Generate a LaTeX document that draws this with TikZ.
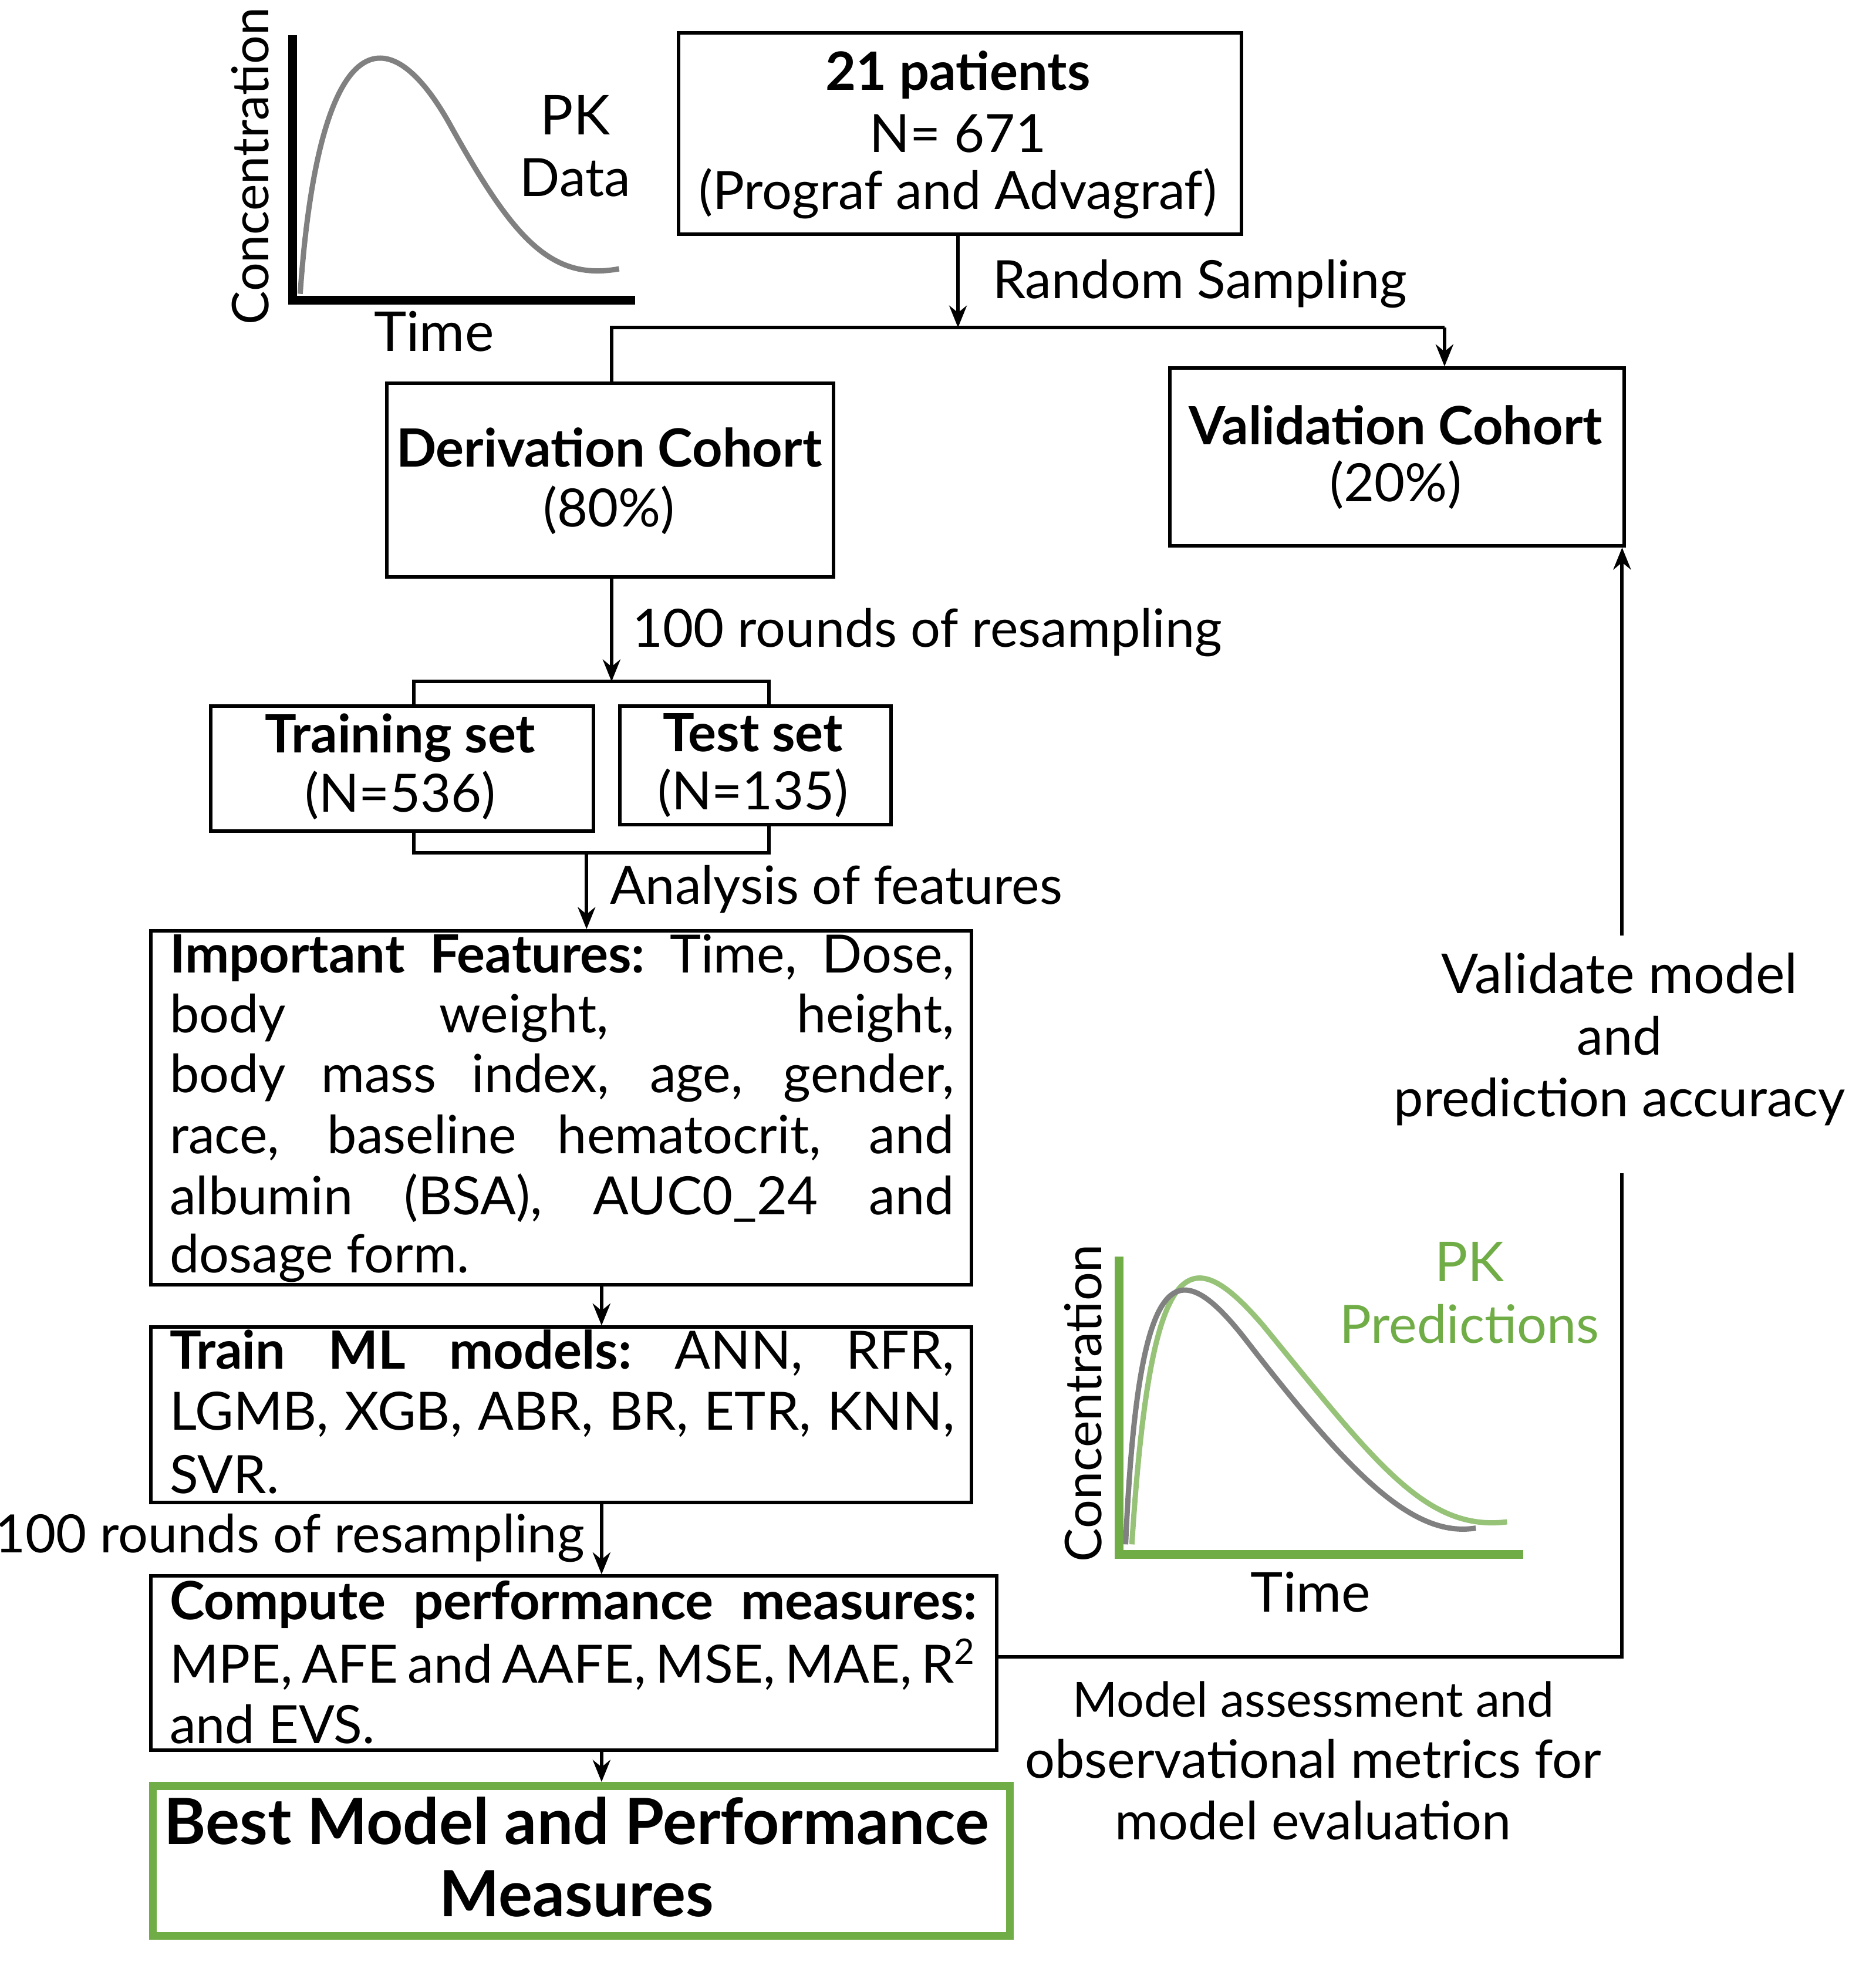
\documentclass[tikz,border=0pt]{standalone}
\usepackage{fontspec}
\usetikzlibrary{arrows.meta}
\setmainfont{Lato}
\definecolor{pkgreen}{RGB}{112,173,71}
\definecolor{pklight}{RGB}{150,195,120}
\definecolor{curvegray}{RGB}{128,128,128}
\newcommand{\jl}[1]{\makebox[6.27cm][s]{#1}}
\newcommand{\jlb}[1]{\makebox[6.45cm][s]{#1}}
\begin{document}
\begin{tikzpicture}[x=0.01cm,y=-0.01cm,
  font=\fontsize{12}{14}\selectfont,
  box/.style={draw,line width=0.8pt,inner sep=0pt},
  lbl/.style={inner sep=0pt},
  ln/.style={line width=0.8pt},
  arr/.style={line width=0.8pt,-{Stealth[length=5pt,width=4pt]}},
  txt/.style={inner sep=0pt,anchor=west}]
\useasboundingbox (0,0) rectangle (1500,1577);
% PK data plot
\draw[curvegray,line width=1.2pt] (240,235) .. controls (255,20) and (310,10) .. (360,100) .. controls (410,190) and (440,225) .. (495,215);
\draw[line width=2pt] (234,28) -- (234,240) -- (508,240);
\node[lbl,rotate=90] (conc1) at (200,133) {\fontsize{11.5}{14}\selectfont Concentration};
\node[lbl] (time1) at (347,265) {\fontsize{12.5}{15}\selectfont Time};
\node[lbl,align=center] (pkd) at (460,117) {\fontsize{12.5}{17}\selectfont PK\\Data};
% boxes
\node[box,minimum width=4.5cm,minimum height=1.61cm,anchor=north west] (pat) at (541,25) {};
\node[lbl] (t1) at (766,60) {\bfseries 21 patients};
\node[lbl] (t2) at (766,107) {N= 671};
\node[lbl] (t3) at (766,155) {(Prograf and Advagraf)};
\node[box,minimum width=3.57cm,minimum height=1.55cm,anchor=north west] (der) at (308,305) {};
\node[lbl] (d1) at (487,358) {\bfseries Derivation Cohort};
\node[lbl] (d2) at (487,408) {(80\%)};
\node[box,minimum width=3.63cm,minimum height=1.42cm,anchor=north west] (val) at (934,293) {};
\node[lbl] (v1) at (1116,340) {\bfseries Validation Cohort};
\node[lbl] (v2) at (1116,388) {(20\%)};
\node[box,minimum width=3.06cm,minimum height=1cm,anchor=north west] (train) at (167,563) {};
\node[lbl] (tr1) at (320,590) {\bfseries Training set};
\node[lbl] (tr2) at (320,636) {(N=536)};
\node[box,minimum width=2.17cm,minimum height=0.95cm,anchor=north west] (test) at (494,563) {};
\node[lbl] (te1) at (602,586) {\bfseries Test set};
\node[lbl] (te2) at (602,634) {(N=135)};
\node[box,minimum width=6.56cm,minimum height=2.83cm,anchor=north west] (feat) at (119,743) {};
\node[txt] (f1) at (135,766) {\jl{\bfseries Important\hfil Features:\hfil\normalfont Time,\hfil Dose,}};
\node[txt] (f2) at (135,814) {\jl{body weight, height,}};
\node[txt] (f3) at (135,862) {\jl{body mass index, age, gender,}};
\node[txt] (f4) at (135,910) {\jl{race, baseline hematocrit, and}};
\node[txt] (f5) at (135,958) {\jl{albumin (BSA), AUC0\_24 and}};
\node[txt] (f6) at (135,1006) {dosage form.};
\node[box,minimum width=6.56cm,minimum height=1.4cm,anchor=north west] (ml) at (119,1060) {};
\node[txt] (m1) at (135,1082) {\jl{\bfseries Train\hfil ML\hfil models:\hfil\normalfont ANN,\hfil RFR,}};
\node[txt] (m2) at (135,1131) {\jl{LGMB, XGB, ABR, BR, ETR, KNN,}};
\node[txt] (m3) at (135,1179) {SVR.};
\node[box,minimum width=6.76cm,minimum height=1.39cm,anchor=north west] (comp) at (119,1259) {};
\node[txt] (c1) at (135,1283) {\jlb{\bfseries Compute\hfil performance\hfil measures:}};
\node[txt] (c2) at (135,1331) {\jlb{MPE, AFE and AAFE, MSE, MAE, R\textsuperscript{2}}};
\node[txt] (c3) at (135,1379) {and EVS.};
\node[box,draw=pkgreen,line width=1.8pt,minimum width=6.85cm,minimum height=1.2cm,anchor=north west] (best) at (119,1425) {};
\node[lbl,align=center,font=\fontsize{14.5}{16.5}\selectfont\bfseries] (b1) at (461,1485) {Best Model and Performance\\Measures};
% connectors
\coordinate (split) at (766,262);
\coordinate (sl) at (489,262);
\coordinate (sr) at (1155,262);
\draw[arr] (pat.south -| split) -- (split);
\node[txt] (rs) at (793,227) {Random Sampling};
\draw[ln] (der.north -| sl) -- (sl) -- (sr);
\draw[arr] (sr) -- (sr |- val.north);
\coordinate (bt) at (489,545);
\draw[arr] (der.south -| bt) -- (bt);
\node[txt] (r1) at (505,506) {100 rounds of resampling};
\draw[ln] (331,563) -- (331,545) -- (615,545) -- (615,563);
\draw[ln] (331,663) -- (331,682) -- (615,682) -- (615,658);
\coordinate (bb) at (469,682);
\draw[arr] (bb) -- (bb |- feat.north);
\node[txt] (af) at (487,711) {Analysis of features};
\coordinate (cx) at (481,0);
\draw[arr] (feat.south -| cx) -- (ml.north -| cx);
\draw[arr] (ml.south -| cx) -- (comp.north -| cx);
\node[lbl,anchor=east] (r2) at (468,1230) {100 rounds of resampling};
\draw[arr] (comp.south -| cx) -- (best.north -| cx);
\coordinate (g1) at (1297,938);
\coordinate (g2) at (1297,748);
\draw[ln] (comp.east |- 0,1325) -- (1297,1325) -- (g1);
\draw[arr] (g2) -- (val.south -| g2);
\node[lbl,align=center] (vm) at (1295,831) {\fontsize{12.5}{17.3}\selectfont Validate model\\and\\prediction accuracy};
\node[lbl,align=center] (ma) at (1050,1408) {\fontsize{11}{15.5}\selectfont Model assessment and\\observational metrics for\\model evaluation};
% PK predictions plot
\draw[pklight,line width=1.2pt] (905,1235) .. controls (920,1000) and (950,990) .. (1010,1060) .. controls (1100,1170) and (1140,1225) .. (1205,1217);
\draw[curvegray,line width=1.2pt] (900,1235) .. controls (910,1010) and (940,1000) .. (995,1070) .. controls (1080,1180) and (1130,1230) .. (1180,1222);
\draw[pkgreen,line width=2pt] (895,1005) -- (895,1243) -- (1218,1243);
\node[lbl,rotate=90] (conc2) at (866,1122) {\fontsize{11.5}{14}\selectfont Concentration};
\node[lbl] (time2) at (1048,1273) {\fontsize{12.5}{15}\selectfont Time};
\node[lbl,align=center,text=pkgreen] (pkp) at (1175,1034) {\fontsize{12.5}{17}\selectfont PK\\Predictions};
\end{tikzpicture}
\end{document}
